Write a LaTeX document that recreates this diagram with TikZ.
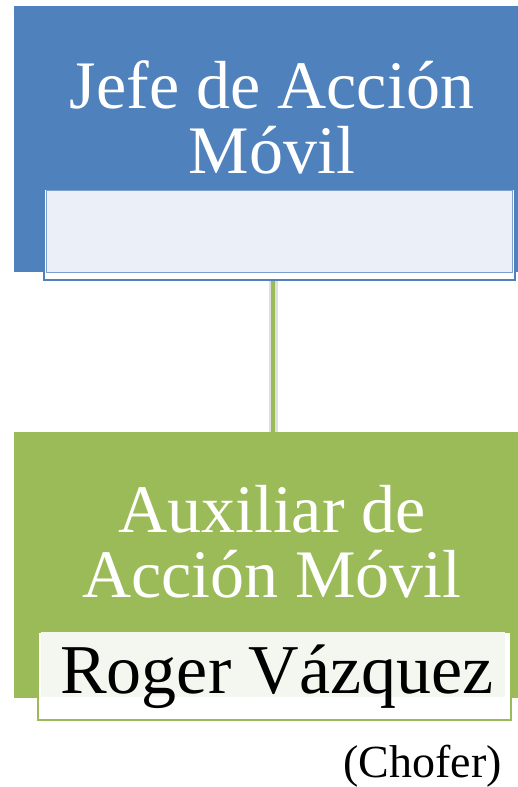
\documentclass[tikz,border=0pt]{standalone}
\usepackage{fontspec}
\setmainfont{Liberation Serif}
\usetikzlibrary{positioning}
\definecolor{jefeblue}{HTML}{4F81BD}
\definecolor{jefeline}{HTML}{7C9FD0}
\definecolor{jefetint}{HTML}{EBF0F8}
\definecolor{auxgreen}{HTML}{9BBB59}
\definecolor{auxtint}{HTML}{F4F7EF}
\tikzstyle{rolebox}=[rectangle, inner sep=0pt, anchor=north west, minimum width=518pt, minimum height=266pt]
\tikzstyle{rolename}=[inner sep=0pt, anchor=base, align=center, text=white, font=\fontsize{68}{65}\selectfont]
\tikzstyle{nameframe}=[rectangle, inner sep=0pt, anchor=north west, fill=white, line width=2pt]
\tikzstyle{nametint}=[rectangle, inner sep=0pt, anchor=north west]

\begin{document}
\begin{tikzpicture}[x=1pt,y=-1pt]
 \useasboundingbox (0,0) rectangle (518,787);
 % cajas de color
 \node[rolebox, fill=jefeblue] (jefe) at (14,6) {};
 \node[rolebox, fill=auxgreen] (aux) at (14,432) {};
 % linea de mando
 \draw[gray!25, line width=9pt] (jefe.south) -- (aux.north);
 \draw[auxgreen, line width=4pt] (jefe.south) -- (aux.north);
 % recuadros de nombre
 \node[nameframe, draw=jefeblue, minimum width=471pt, minimum height=91pt] (jefeframe) at (43,188) {};
 \node[nametint, fill=jefetint, draw=jefeline, line width=1pt, minimum width=466pt, minimum height=82pt] (jefetint) at (46,190) {};
 \node[nameframe, draw=auxgreen, minimum width=473pt, minimum height=88pt] (auxframe) at (37,631) {};
 \node[nametint, fill=auxtint, minimum width=464pt, minimum height=65pt] (auxtint) at (41,632) {};
 % textos
 \node[rolename] (jefetext) at (272,173) {Jefe de Acción\\Móvil};
 \node[rolename] (auxtext) at (272,597) {Auxiliar de\\Acción Móvil};
 \node[inner sep=0pt, anchor=base, font=\fontsize{70}{70}\selectfont] (roger) at (277,693) {Roger Vázquez};
 \node[inner sep=0pt, anchor=base east, font=\fontsize{46}{46}\selectfont] (chofer) at (502,777) {(Chofer)};
\end{tikzpicture}
\end{document}
